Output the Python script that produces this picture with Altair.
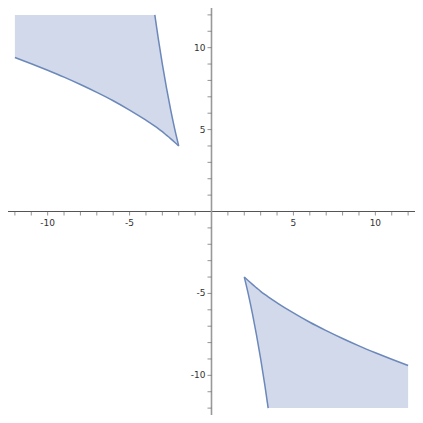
import altair as alt
import pandas as pd

# |x| positions along the boundary, lower curve |y| and upper bound |y| (steep edge, clipped at 12)
abs_x = [2.0, 2.25, 2.5, 2.75, 3.0, 3.25, 3.46, 4, 5, 6, 7, 8, 9, 10, 11, 12]
curve_y = [4.0, 4.23, 4.45, 4.66, 4.87, 5.06, 5.21, 5.57, 6.19, 6.76, 7.27, 7.75, 8.2, 8.62, 9.02, 9.4]
upper_y = [4.0, 5.06, 6.25, 7.56, 9.0, 10.56, 12, 12, 12, 12, 12, 12, 12, 12, 12, 12]
n_para = 7  # first points of upper_y lie on the steep boundary

x_ticks = [v for v in range(-12, 13) if v != 0]
y_ticks = [v for v in range(-12, 13) if v != 0]
x_labels = [-10, -5, 5, 10]
y_labels = [-10, -5, 5, 10]

DOM = [-12.42, 12.42]
FILL = "#d1d9ea"
STROKE = "#6c88ba"

rows = []
for region, sx, sy in [("ul", -1, 1), ("lr", 1, -1)]:
    for i, (ax, lo, up) in enumerate(zip(abs_x, curve_y, upper_y)):
        rows.append({"region": region, "x": sx * ax, "lo": sy * lo, "up": sy * up,
                     "para": i < n_para})
df = pd.DataFrame(rows)

xs = alt.Scale(domain=DOM, nice=False, zero=False)
ys = alt.Scale(domain=DOM, nice=False, zero=False)
X = alt.X("x:Q", scale=xs, axis=None)

area = alt.Chart(df).mark_area(color=FILL, opacity=1, interpolate="monotone").encode(
    x=X, y=alt.Y("lo:Q", scale=ys, axis=None), y2="up:Q", detail="region:N"
)
curve = alt.Chart(df).mark_line(color=STROKE, strokeWidth=1.5, interpolate="monotone").encode(
    x=X, y=alt.Y("lo:Q", scale=ys, axis=None), detail="region:N"
)
para = alt.Chart(df).transform_filter("datum.para").mark_line(
    color=STROKE, strokeWidth=1.5, interpolate="monotone").encode(
    x=X, y=alt.Y("up:Q", scale=ys, axis=None), detail="region:N"
)

axdf = pd.DataFrame({"a": [DOM[0]], "b": [DOM[1]]})
xaxis = alt.Chart(axdf).mark_rule(color="#555555", strokeWidth=1).encode(
    x=alt.X("a:Q", scale=xs, axis=None), x2="b:Q", y=alt.Y("z:Q", scale=ys, axis=None)
).transform_calculate(z="0")
yaxis = alt.Chart(axdf).mark_rule(color="#999999", strokeWidth=1.6).encode(
    y=alt.Y("a:Q", scale=ys, axis=None), y2="b:Q", x=alt.X("z:Q", scale=xs, axis=None)
).transform_calculate(z="0")

xt = pd.DataFrame({"v": x_ticks})
yt = pd.DataFrame({"v": y_ticks})

xtick = alt.Chart(xt).mark_tick(orient="vertical", color="#666666", thickness=1, size=4, yOffset=2).encode(
    x=alt.X("v:Q", scale=xs, axis=None), y=alt.Y("z:Q", scale=ys, axis=None)
).transform_calculate(z="0")
ytick = alt.Chart(yt).mark_tick(orient="horizontal", color="#666666", thickness=1, size=4, xOffset=-2).encode(
    y=alt.Y("v:Q", scale=ys, axis=None), x=alt.X("z:Q", scale=xs, axis=None)
).transform_calculate(z="0")

xl = alt.Chart(pd.DataFrame({"v": x_labels, "t": [str(v) for v in x_labels]})).mark_text(
    font="DejaVu Sans", fontSize=9, color="#333333", baseline="top", dy=7).encode(
    x=alt.X("v:Q", scale=xs, axis=None), y=alt.Y("z:Q", scale=ys, axis=None), text="t:N"
).transform_calculate(z="0")
yl = alt.Chart(pd.DataFrame({"v": y_labels, "t": [str(v) for v in y_labels]})).mark_text(
    font="DejaVu Sans", fontSize=9, color="#333333", align="right", baseline="middle", dx=-6).encode(
    y=alt.Y("v:Q", scale=ys, axis=None), x=alt.X("z:Q", scale=xs, axis=None), text="t:N"
).transform_calculate(z="0")

chart = alt.layer(area, curve, para, xaxis, yaxis, xtick, ytick, xl, yl).properties(
    width=407, height=407, padding=0, autosize=alt.AutoSizeParams(type="none")
).configure_view(stroke=None)

chart.save("out.html", embed_options={"renderer": "svg", "actions": False})
